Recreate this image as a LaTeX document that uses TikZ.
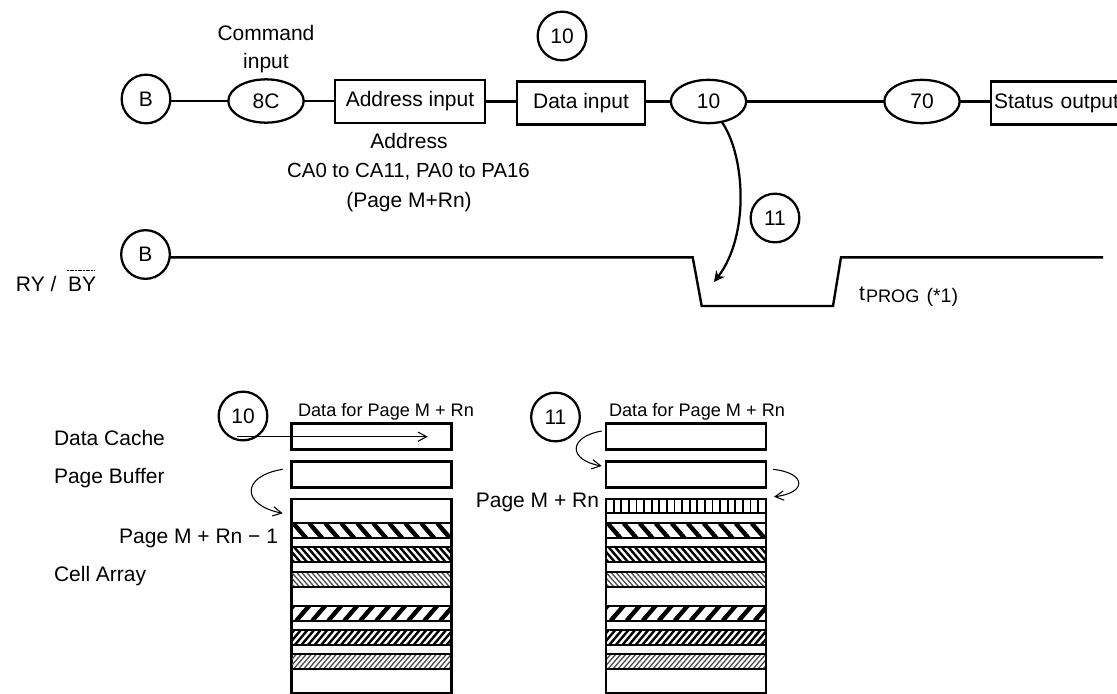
\documentclass[tikz,border=0pt]{standalone}
\usepackage{fontspec}
\setmainfont{Liberation Sans}
\usetikzlibrary{arrows.meta,shapes.geometric}
\newcommand{\fsL}{\fontsize{15.75}{18}\selectfont}
\newcommand{\fsM}{\fontsize{13.6}{16}\selectfont}
\newcommand{\bandrow}[8]{% x0,y0,x1,y1,spacing,width,slant,colour
  \begin{scope}
    \clip (#1,#2) rectangle (#3,#4);
    \pgfmathsetmacro{\xa}{#1-30}
    \pgfmathsetmacro{\xb}{#1-30+#5}
    \pgfmathsetmacro{\xc}{#3+30}
    \foreach \xx in {\xa,\xb,...,\xc}
      \draw[line width=#6*0.75pt,#8] (\xx,#2) -- ({\xx+#7},#4);
  \end{scope}
  \draw[line width=1.7pt] (#1,#2) rectangle (#3,#4);
}
\tikzset{
  every node/.style={font=\fsL,text=black,inner sep=0pt,outer sep=0pt},
  wire/.style={line width=1.8pt},
  circ/.style={draw,circle,line width=1.7pt,minimum size=36.5pt},
  oval/.style={draw,ellipse,line width=1.7pt,minimum width=56.5pt,minimum height=32.5pt},
  cbox/.style={draw,rectangle,line width=1.8pt,minimum height=32.5pt},
  reg/.style={draw,rectangle,line width=1.8pt,minimum width=120pt,minimum height=19.5pt},
  thinarrow/.style={line width=0.8pt,-{Straight Barb[length=6.5pt,width=7pt]}},
  txt/.style={anchor=base},
  small/.style={anchor=base,font=\fsM}
}
\begin{document}
\begin{tikzpicture}[x=0.75pt,y=-0.75pt]
\useasboundingbox (0,0) rectangle (1117,693);
\clip (0,0) rectangle (1117,693);
% ---- top flow
\node[circ] (b1) at (146,99) {B};
\node[oval] (c8) at (266,101) {8C};
\node[cbox,minimum width=112.5pt] (addr) at (410,101.5) {Address input};
\node[cbox,minimum width=96pt] (data) at (581,103) {Data input};
\node[oval] (e10) at (708.5,101.5) {10};
\node[oval] (e70) at (922,101.5) {70};
\node[cbox,anchor=west,inner xsep=2.5pt,text width=97.5pt,align=left] (stat) at (990.7,103) {Status output};
\draw[wire] (b1.east |- c8.west) -- (c8.west);
\draw[wire] (c8.east) -- (addr.west |- c8.east);
\draw[wire] (addr.east) -- (data.west |- addr.east);
\draw[wire] (data.east |- e10.west) -- (e10.west);
\draw[wire] (e10.east) -- (e70.west);
\draw[wire] (e70.east) -- (stat.west |- e70.east);
\node[txt] (cmd1) at (266,40) {Command};
\node[txt] (cmd2) at (266,68) {input};
\node[circ] (n10a) at (562,36) {10};
\node[circ] (n11a) at (775,218) {11};
\node[txt] (ad1) at (409,148) {Address};
\node[txt,font=\fontsize{15.3}{18}\selectfont] (ad2) at (408.5,177) {CA0 to CA11, PA0 to PA16};
\node[txt] (ad3) at (409,207) {(Page M+Rn)};
% ---- waveform
\node[circ] (b2) at (145.5,254.5) {B};
\coordinate (w1) at (692.7,257.3);
\coordinate (w2) at (701.7,306);
\coordinate (w3) at (833,306);
\coordinate (w4) at (841,257.3);
\coordinate (w5) at (1103,257.3);
\draw[wire,line join=miter] (b2.east |- w1) -- (w1) -- (w2) -- (w3) -- (w4) -- (w5);
\coordinate (t11) at (714,282);
\draw[line width=1.7pt,-{Stealth[length=8pt,width=8pt,inset=2.5pt]}] (e10.-57) .. controls (745,155) and (750,235) .. (t11);
\node[anchor=base west] (ry) at (16,291) {RY /};
\node[anchor=base west] (by) at (68,291) {BY};
\draw[line width=0.4pt,dash pattern=on 1.5pt off 0.5pt] (67,270) -- (95,270);
\node[anchor=base west] (tp) at (859,300) {t};
\node[anchor=base west,font=\fsM] (tq) at (866,302.7) {PROG};
\node[anchor=base west,font=\fontsize{14.7}{16}\selectfont] (tr) at (926.5,302) {(*1)};
% ---- left labels
\node[anchor=base west] (l1) at (54,445) {Data Cache};
\node[anchor=base west] (l2) at (54,483) {Page Buffer};
\node[anchor=base west] (l3) at (54,581) {Cell Array};
\node[anchor=base east] (l4) at (278,543) {Page M + Rn − 1};
\node[anchor=base east] (l5) at (599,507.7) {Page M + Rn};
\node[small] (d1) at (386,416) {Data for Page M + Rn};
\node[small] (d2) at (697,416.7) {Data for Page M + Rn};
% ---- left array
\node[reg] (cacheA) at (371.3,436.3) {};
\node[reg] (bufA) at (371.3,474.5) {};
\node[draw,line width=1.8pt,minimum width=120pt,minimum height=145.8pt] (cellA) at (371.3,596) {};
% ---- right array
\node[reg] (cacheB) at (685.7,436.3) {};
\node[reg] (bufB) at (685.7,474.5) {};
\node[draw,line width=1.8pt,minimum width=120pt,minimum height=145.8pt] (cellB) at (685.7,596) {};
\foreach \xl/\xr in {291.3/451.3,605.7/765.7}{
  \bandrow{\xl}{523.3}{\xr}{538.3}{16}{4.4}{13}{black}
  \bandrow{\xl}{547.3}{\xr}{562.3}{6.6}{2.4}{13}{black}
  \bandrow{\xl}{572}{\xr}{586.7}{5}{1.3}{13}{black!70}
  \bandrow{\xl}{605.7}{\xr}{620.7}{16}{4.4}{-13}{black}
  \bandrow{\xl}{630}{\xr}{645.3}{6.6}{2.4}{-13}{black}
  \bandrow{\xl}{654.3}{\xr}{669.3}{5}{1.3}{-13}{black!70}
}
\bandrow{605.7}{499}{765.7}{513.3}{7.6}{1.8}{0}{black}
% ---- circled numbers and arrows over the registers
\node[circ] (n10b) at (243,416) {10};
\node[circ] (n11b) at (555.5,417) {11};
\coordinate (a0) at (236.7,436.7);
\coordinate (a1) at (427.7,436.7);
\draw[thinarrow] (a0) -- (a1);
\coordinate (p0) at (282.7,469.3);
\coordinate (p1) at (282.7,513.3);
\draw[thinarrow] (p0) .. controls (241,476) and (241,505) .. (p1);
\coordinate (q0) at (601.7,431);
\coordinate (q1) at (601.7,466);
\draw[thinarrow] (q0) .. controls (568,437) and (568,460) .. (q1);
\coordinate (r0) at (773,469.3);
\coordinate (r1) at (774,496.7);
\draw[thinarrow] (r0) .. controls (807,473) and (807,493) .. (r1);
\end{tikzpicture}
\end{document}
